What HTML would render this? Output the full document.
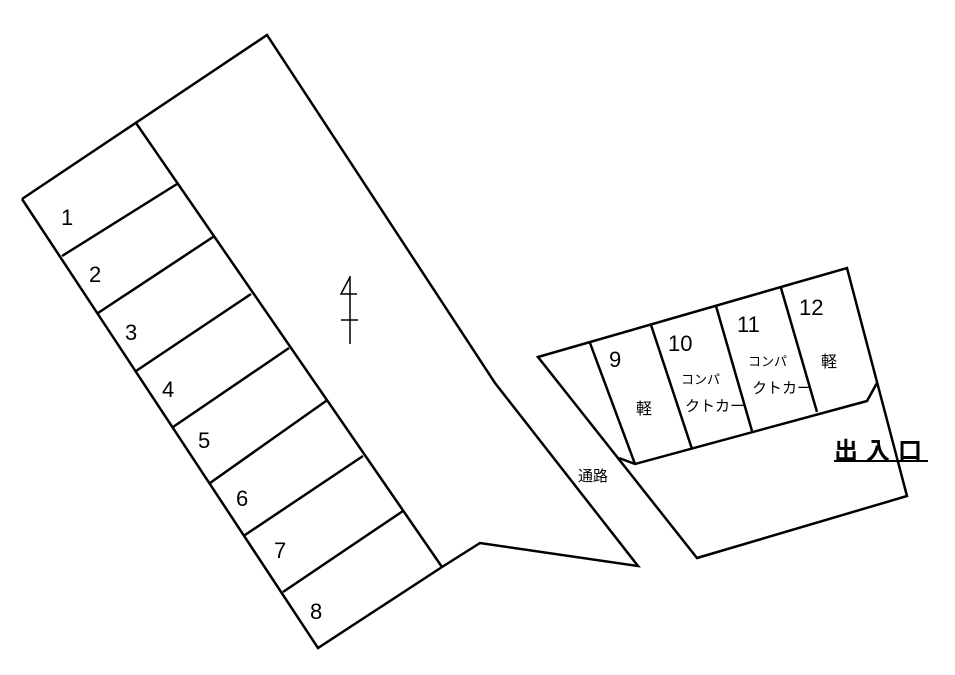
<!DOCTYPE html>
<html><head><meta charset="utf-8"><style>
html,body{margin:0;padding:0;background:#fff;}
svg{display:block}
text{font-family:"Liberation Sans","Noto Sans CJK JP",sans-serif;fill:#000}
</style></head><body>
<svg width="955" height="675" viewBox="0 0 955 675" xmlns="http://www.w3.org/2000/svg">
<g fill="none" stroke="#000" stroke-width="2.5" stroke-linejoin="miter">
<polyline points="22,199 267,35 495,383 638,566 480,543 442,567 318,648 22,199"/>
<line x1="136" y1="123" x2="442" y2="567"/>
<line x1="62" y1="256" x2="177" y2="184"/>
<line x1="98" y1="313" x2="213" y2="237"/>
<line x1="136" y1="371" x2="251" y2="294"/>
<line x1="173" y1="427" x2="289" y2="348"/>
<line x1="210" y1="483" x2="326" y2="401"/>
<line x1="245" y1="535" x2="363" y2="456"/>
<line x1="283" y1="592" x2="403" y2="511"/>
<polygon points="538,357 847,268 907,496 697,558"/>
<polyline points="619,458 635,464 867,401 877,383"/>
<line x1="590" y1="343" x2="635" y2="464"/>
<line x1="651" y1="325" x2="692" y2="449"/>
<line x1="716" y1="306" x2="752" y2="431"/>
<line x1="781" y1="288" x2="817" y2="412"/>
</g>
<g stroke="#000" stroke-width="1.5" fill="none">
<polyline points="350,277 341,294 357,294"/>
<line x1="350" y1="276" x2="350" y2="344"/>
<line x1="341" y1="320" x2="358" y2="320"/>
</g>
<g font-size="22">
<text x="61" y="225">1</text>
<text x="89" y="282">2</text>
<text x="125" y="340">3</text>
<text x="162" y="397">4</text>
<text x="198" y="448">5</text>
<text x="236" y="506">6</text>
<text x="274" y="558">7</text>
<text x="310" y="619">8</text>
<text x="609" y="367">9</text>
<text x="668" y="351">10</text>
<text x="737" y="332">11</text>
<text x="799" y="315">12</text>
</g>
<g font-size="16">
<text x="636" y="414">軽</text>
<text x="821" y="367">軽</text>
<text x="681" y="384" font-size="13">コンパ</text>
<text x="685" y="411" font-size="15">クトカー</text>
<text x="748" y="366" font-size="13">コンパ</text>
<text x="752" y="393" font-size="15">クトカー</text>
<text x="578" y="481" font-size="15">通路</text>
</g>
<text x="834" y="459" font-size="24" font-weight="bold" letter-spacing="8">出入口</text>
<line x1="834" y1="461" x2="928" y2="461" stroke="#000" stroke-width="2"/>
</svg>
</body></html>
